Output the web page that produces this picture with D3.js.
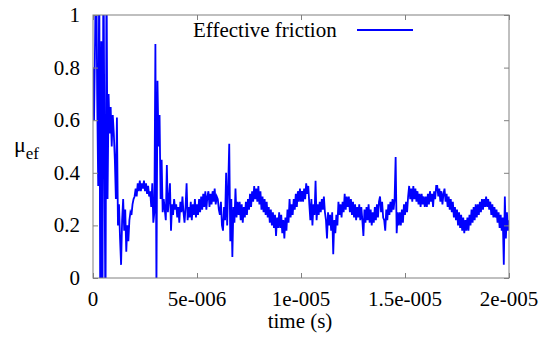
<!DOCTYPE html>
<html>
<head>
<meta charset="utf-8">
<script src="https://cdn.jsdelivr.net/npm/d3@7"></script>
</head>
<body style="margin:0">
<svg id="chart" width="551" height="338" font-family="Liberation Serif"></svg>
<script>
// Sample spacing of the recorded series (s)
const timeStep = 5e-8;

// Effective friction, one row per microsecond (20 samples each)
const muValues = [
  0.8, 0.6, 0.9, 1.3, 0.7, 0.35, 1.2, -0.2, 0.9, -0.3, 1.3, 0.5, -0.2, 1.2, 0.3, 0.7, 0.55, 0.65, 0.5, 0.62,
  0.55, 0.45, 0.3, 0.61, 0.2, 0.28, 0.15, 0.05, 0.22, 0.3, 0.18, 0.26, 0.1, 0.2, 0.14, 0.22, 0.25, 0.24, 0.28, 0.3,
  0.31, 0.34, 0.31, 0.36, 0.33, 0.37, 0.33, 0.36, 0.34, 0.37, 0.33, 0.36, 0.32, 0.35, 0.31, 0.33, 0.27, 0.36, 0.21, 0.25,
  0.89, -0.05, 0.75, 0.5, 0.62, 0.3, 0.45, 0.25, 0.3, 0.26, 0.22, 0.43, 0.25, 0.3, 0.36, 0.18, 0.28, 0.24, 0.3, 0.26,
  0.28, 0.23, 0.27, 0.21, 0.29, 0.25, 0.31, 0.25, 0.21, 0.27, 0.36, 0.22, 0.27, 0.23, 0.29, 0.22, 0.28, 0.24, 0.3, 0.23,
  0.28, 0.24, 0.3, 0.25, 0.31, 0.26, 0.32, 0.27, 0.33, 0.26, 0.31, 0.33, 0.27, 0.32, 0.28, 0.33, 0.29, 0.34, 0.28, 0.31,
  0.3, 0.26, 0.24, 0.29, 0.2, 0.18, 0.27, 0.22, 0.4, 0.2, 0.35, 0.51, 0.14, 0.3, 0.08, 0.27, 0.21, 0.34, 0.23, 0.29,
  0.24, 0.29, 0.22, 0.28, 0.21, 0.27, 0.23, 0.29, 0.24, 0.3, 0.26, 0.32, 0.27, 0.33, 0.29, 0.35, 0.3, 0.34, 0.29, 0.35,
  0.28, 0.33, 0.26, 0.31, 0.25, 0.3, 0.24, 0.29, 0.23, 0.27, 0.21, 0.26, 0.2, 0.25, 0.19, 0.24, 0.16, 0.23, 0.19, 0.25,
  0.19, 0.24, 0.17, 0.22, 0.15, 0.23, 0.18, 0.26, 0.21, 0.3, 0.23, 0.28, 0.24, 0.3, 0.26, 0.32, 0.27, 0.33, 0.29, 0.34,
  0.29, 0.33, 0.29, 0.34, 0.3, 0.36, 0.32, 0.35, 0.28, 0.22, 0.3, 0.2, 0.28, 0.24, 0.37, 0.22, 0.28, 0.24, 0.29, 0.25,
  0.3, 0.26, 0.31, 0.25, 0.22, 0.15, 0.25, 0.2, 0.24, 0.18, 0.25, 0.09, 0.22, 0.17, 0.24, 0.2, 0.29, 0.24, 0.28, 0.23,
  0.29, 0.25, 0.32, 0.26, 0.31, 0.27, 0.31, 0.25, 0.3, 0.24, 0.29, 0.23, 0.28, 0.22, 0.27, 0.23, 0.28, 0.22, 0.27, 0.22,
  0.16, 0.26, 0.21, 0.27, 0.22, 0.28, 0.21, 0.26, 0.2, 0.25, 0.21, 0.27, 0.22, 0.28, 0.23, 0.29, 0.31, 0.25, 0.29, 0.23,
  0.22, 0.18, 0.26, 0.22, 0.28, 0.24, 0.29, 0.25, 0.3, 0.26, 0.3, 0.46, 0.17, 0.25, 0.2, 0.25, 0.2, 0.26, 0.21, 0.28,
  0.24, 0.29, 0.25, 0.31, 0.35, 0.3, 0.34, 0.29, 0.35, 0.3, 0.34, 0.29, 0.33, 0.28, 0.32, 0.27, 0.32, 0.28, 0.31, 0.27,
  0.31, 0.27, 0.32, 0.28, 0.33, 0.29, 0.32, 0.27, 0.33, 0.3, 0.35, 0.35, 0.31, 0.34, 0.29, 0.33, 0.28, 0.32, 0.34, 0.29,
  0.32, 0.27, 0.31, 0.26, 0.3, 0.25, 0.29, 0.23, 0.27, 0.22, 0.26, 0.2, 0.25, 0.19, 0.24, 0.18, 0.23, 0.17, 0.22, 0.18,
  0.23, 0.18, 0.24, 0.2, 0.26, 0.21, 0.27, 0.22, 0.28, 0.23, 0.28, 0.24, 0.29, 0.25, 0.3, 0.26, 0.3, 0.27, 0.31, 0.27,
  0.3, 0.26, 0.29, 0.24, 0.28, 0.23, 0.27, 0.23, 0.26, 0.21, 0.25, 0.19, 0.24, 0.18, 0.23, 0.05, 0.31, 0.15, 0.25, 0.18,
  0.22
];

const xTicks = [0, 5e-6, 1e-5, 1.5e-5, 2e-5];
const xTickLabels = ["0", "5e-006", "1e-005", "1.5e-005", "2e-005"];
const yTicks = [0, 0.2, 0.4, 0.6, 0.8, 1];
const yTickLabels = ["0", "0.2", "0.4", "0.6", "0.8", "1"];
const seriesName = "Effective friction";

const plot = { left: 93, right: 509, top: 15, bottom: 278 };
const tickLen = 5;
const axisColor = "#808080";

const series = muValues.map((v, i) => ({ t: i * timeStep, mu: v }));

const svg = d3.select("#chart");

const x = d3.scaleLinear().domain([0, 2e-5]).range([plot.left, plot.right]);
const y = d3.scaleLinear().domain([0, 1]).range([plot.bottom, plot.top]);

svg.append("clipPath").attr("id", "clip")
  .append("rect")
  .attr("x", plot.left).attr("y", plot.top)
  .attr("width", plot.right - plot.left)
  .attr("height", plot.bottom - plot.top);

// data line
const line = d3.line().x(d => x(d.t)).y(d => y(d.mu));
svg.append("path")
  .datum(series)
  .attr("clip-path", "url(#clip)")
  .attr("fill", "none")
  .attr("stroke", "#0000ff")
  .attr("stroke-width", 1.8)
  .attr("d", line);

// inward ticks on all four sides
function ticksOnly(g) {
  g.select(".domain").remove();
  g.selectAll(".tick line").attr("stroke", axisColor);
  g.selectAll(".tick text").remove();
}
svg.append("g").attr("transform", `translate(0,${plot.bottom})`)
  .call(d3.axisBottom(x).tickValues(xTicks).tickSizeInner(-tickLen).tickSizeOuter(0))
  .call(ticksOnly);
svg.append("g").attr("transform", `translate(0,${plot.top})`)
  .call(d3.axisTop(x).tickValues(xTicks).tickSizeInner(-tickLen).tickSizeOuter(0))
  .call(ticksOnly);
svg.append("g").attr("transform", `translate(${plot.left},0)`)
  .call(d3.axisLeft(y).tickValues(yTicks).tickSizeInner(-tickLen).tickSizeOuter(0))
  .call(ticksOnly);
svg.append("g").attr("transform", `translate(${plot.right},0)`)
  .call(d3.axisRight(y).tickValues(yTicks).tickSizeInner(-tickLen).tickSizeOuter(0))
  .call(ticksOnly);

// border
svg.append("rect")
  .attr("x", plot.left).attr("y", plot.top)
  .attr("width", plot.right - plot.left)
  .attr("height", plot.bottom - plot.top)
  .attr("fill", "none")
  .attr("stroke", axisColor);

// text layer
const labels = svg.append("g")
  .attr("font-family", "Liberation Serif")
  .attr("font-size", 21)
  .attr("fill", "#000");

labels.append("g").selectAll("text")
  .data(xTicks)
  .join("text")
  .attr("x", d => x(d))
  .attr("y", plot.bottom + 28)
  .attr("text-anchor", "middle")
  .text((d, i) => xTickLabels[i]);

labels.append("g").selectAll("text")
  .data(yTicks)
  .join("text")
  .attr("x", plot.left - 13)
  .attr("y", d => y(d) + 7)
  .attr("text-anchor", "end")
  .text((d, i) => yTickLabels[i]);

labels.append("text")
  .attr("x", (plot.left + plot.right) / 2 - 1)
  .attr("y", 328)
  .attr("text-anchor", "middle")
  .text("time (s)");

const yTitle = labels.append("text")
  .attr("x", 14)
  .attr("y", 152)
  .attr("font-size", 22);
yTitle.append("tspan").text("\u03bc");
yTitle.append("tspan").attr("dy", 7).attr("font-size", 17).text("ef");

// legend
labels.append("text")
  .attr("x", 193)
  .attr("y", 37)
  .text(seriesName);
svg.append("line")
  .attr("x1", 357).attr("x2", 413)
  .attr("y1", 30).attr("y2", 30)
  .attr("stroke", "#0000ff")
  .attr("stroke-width", 1.8);
</script>
</body>
</html>
